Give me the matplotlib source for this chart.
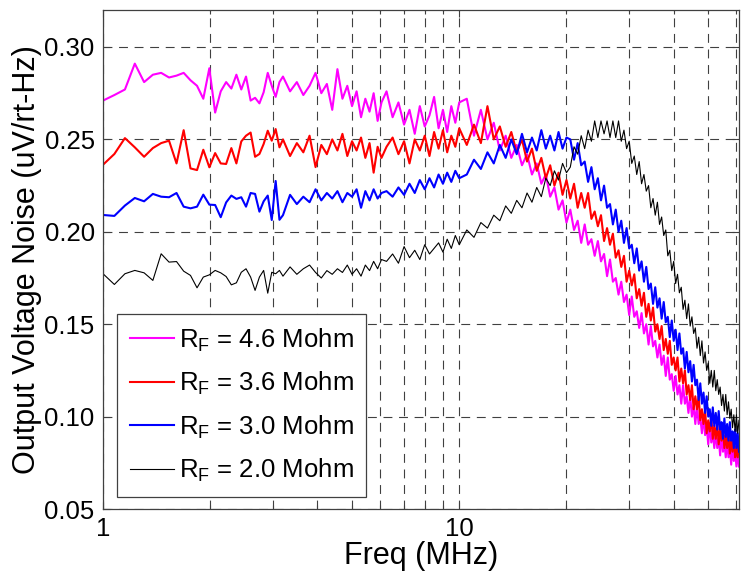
import numpy as np
import matplotlib
matplotlib.use("Agg")
import matplotlib.pyplot as plt
from matplotlib.ticker import FixedLocator, LogLocator, NullFormatter, FormatStrFormatter

# frequency sampling (MHz)
freq = np.concatenate([
    np.round(1.0 + 0.076 * np.arange(29), 3),   # 1.0 .. 3.128
    np.round(np.arange(3.2, 6.06, 0.15), 3),     # 3.2 .. 6.05
    np.round(np.arange(6.25, 10.01, 0.25), 3),   # 6.25 .. 10.0
    np.round(np.arange(10.5, 20.01, 0.5), 3),    # 10.5 .. 20.0
    np.round(np.arange(20.5, 61.01, 0.5), 3),    # 20.5 .. 61.0
])

rf46 = [
    .271, .274, .277, .291, .281, .285, .286, .2835, .2845, .286, .282, .279, .272, .2885, .2645,
    .276, .281, .2775, .285, .277, .284, .271, .2725, .2695, .2755, .286, .279, .273, .281,
    .284, .276, .281, .274, .279, .286, .275, .280, .266, .288, .272, .279, .268, .276, .262,
    .272, .265, .275, .260, .270,
    .276, .262, .270, .258, .266, .253, .268, .257, .263, .273, .256, .266, .254, .268, .259, .270,
    .272, .252, .266, .250, .259, .244, .252, .240, .247, .236, .242, .231, .237, .226, .231,
    .219, .224, .212, .217, .205,
    .212, .201, .206, .194, .204, .193, .196, .187, .195, .184, .188, .176, .185, .173, .175,
    .166, .173, .162, .166, .155, .165, .154, .157, .148, .156, .145, .150, .139, .149, .138,
    .141, .132, .139, .128, .133, .122, .132, .120, .123, .114, .122, .112, .117, .107, .117,
    .107, .111, .102, .111, .100, .106, .096, .106, .096, .100, .091, .100, .090, .095, .085,
    .096, .086, .091, .083, .092, .083, .089, .079, .091, .081, .086, .078, .087, .078, .084,
    .074, .086, .076, .081, .073, .082, .073,
]

rf36 = [
    .2363, .2421, .2507, .2457, .2406, .2453, .248, .2493, .237, .255, .2343, .2334, .2444, .2349,
    .2426, .237, .2367, .2453, .237, .2489, .252, .2537, .2406, .2421, .2475, .2547, .2493, .2556,
    .2457,
    .250, .241, .248, .243, .252, .235, .247, .242, .250, .244, .253, .241, .249, .244, .251,
    .240, .248, .232, .246, .240,
    .246, .251, .242, .249, .237, .250, .244, .252, .241, .254, .245, .255, .243, .252, .246, .256,
    .247, .258, .248, .268, .250, .257, .246, .254, .243, .250, .238, .245, .233, .240, .229,
    .236, .225, .232, .220, .228,
    .218, .226, .213, .221, .213, .221, .207, .211, .203, .209, .195, .202, .193, .199, .186,
    .190, .181, .187, .173, .179, .171, .177, .164, .169, .160, .167, .154, .161, .152, .159,
    .146, .150, .142, .149, .136, .142, .134, .141, .128, .132, .125, .132, .119, .126, .118,
    .125, .112, .117, .109, .117, .104, .111, .104, .111, .098, .104, .096, .104, .091, .098,
    .092, .100, .088, .095, .088, .097, .085, .093, .087, .095, .083, .090, .083, .091, .080,
    .088, .081, .090, .078, .084, .078, .086,
]

rf30 = [
    .2091, .2086, .2142, .2183, .2165, .2205, .219, .2187, .221, .2136, .2127, .2136, .2201, .2147,
    .2145, .2079, .2159, .2196, .2178, .2187, .2136, .221, .2205, .2109, .2165, .2196, .2064, .2275,
    .2065,
    .209, .220, .215, .219, .216, .223, .217, .221, .218, .222, .216, .221, .219, .223, .213,
    .222, .217, .223, .218, .221,
    .222, .219, .224, .220, .226, .221, .228, .223, .229, .224, .231, .226, .232, .227, .233, .229,
    .231, .239, .234, .243, .237, .247, .240, .250, .242, .253, .243, .251, .244, .255, .245,
    .252, .244, .254, .245, .251,
    .250, .239, .248, .236, .238, .227, .235, .223, .229, .217, .225, .213, .215, .204, .212,
    .200, .206, .194, .202, .191, .193, .183, .191, .179, .184, .173, .181, .169, .172, .161,
    .170, .159, .164, .153, .162, .151, .154, .143, .152, .141, .147, .136, .145, .134, .137,
    .126, .135, .124, .130, .119, .128, .117, .120, .109, .118, .107, .113, .102, .111, .100,
    .104, .095, .105, .095, .102, .093, .103, .093, .097, .088, .099, .089, .096, .087, .097,
    .087, .092, .083, .093, .083, .091, .081,
]

rf20 = [
    .1773, .1715, .1773, .1791, .1778, .1737, .1881, .1836, .1839, .1787, .1764, .1697, .1755,
    .1767, .1791, .1778, .1758, .1713, .1724, .1781, .18, .1755, .1683, .1755, .1791, .1668,
    .1781, .1773, .1791,
    .176, .181, .177, .180, .182, .178, .175, .179, .177, .180, .178, .182, .177, .180, .176,
    .182, .179, .184, .180, .185,
    .184, .188, .183, .192, .186, .190, .185, .193, .188, .191, .194, .189, .196, .191, .198, .193,
    .201, .197, .205, .202, .209, .206, .214, .210, .217, .213, .221, .216, .224, .219, .229,
    .225, .233, .228, .237, .232,
    .235, .246, .242, .252, .245, .255, .249, .260, .251, .260, .253, .260, .251, .260, .251,
    .260, .249, .255, .245, .249, .237, .241, .231, .238, .226, .231, .222, .225, .213, .218,
    .209, .216, .204, .208, .198, .201, .187, .190, .179, .184, .172, .177, .167, .170, .158,
    .163, .153, .161, .149, .154, .145, .148, .137, .143, .133, .141, .129, .135, .125, .129,
    .118, .125, .116, .125, .114, .120, .112, .116, .106, .112, .103, .112, .101, .108, .099,
    .104, .094, .101, .092, .101, .091, .098,
]

labels = ['R$_\\mathregular{F}$ = 4.6 Mohm', 'R$_\\mathregular{F}$ = 3.6 Mohm',
          'R$_\\mathregular{F}$ = 3.0 Mohm', 'R$_\\mathregular{F}$ = 2.0 Mohm']
colors = ['#ff00ff', '#ff0000', '#0000ff', '#000000']
widths = [1.5, 1.5, 1.5, 0.8]

plt.rcParams['font.family'] = ['Liberation Sans', 'DejaVu Sans']
plt.rcParams['mathtext.fontset'] = 'custom'
plt.rcParams['mathtext.rm'] = 'Liberation Sans'

fig = plt.figure(figsize=(7.51, 5.83), dpi=100)
ax = fig.add_axes([0.1372, 0.1269, 0.8468, 0.8559])

for y, lab, c, w in zip([rf46, rf36, rf30, rf20], labels, colors, widths):
    ax.plot(freq, y, color=c, lw=w, label=lab)

ax.set_xscale('log')
ax.set_xlim(1, 61)
ax.set_ylim(0.05, 0.32)
ax.xaxis.set_major_locator(FixedLocator([1, 10]))
ax.xaxis.set_major_formatter(FormatStrFormatter('%g'))
ax.xaxis.set_minor_locator(LogLocator(base=10, subs=np.arange(2, 10)))
ax.xaxis.set_minor_formatter(NullFormatter())
ax.set_yticks([0.05, 0.10, 0.15, 0.20, 0.25, 0.30])
ax.yaxis.set_major_formatter(FormatStrFormatter('%.2f'))

gc = '#404040'
ax.grid(True, which='major', color=gc, ls=(0, (8, 6)), lw=0.8)
ax.grid(True, which='minor', axis='x', color=gc, ls=(0, (8, 6)), lw=0.8)
ax.tick_params(which='both', direction='in', top=True, right=True, colors=gc, labelcolor='black',
               labelsize=18.5, width=0.8)
ax.tick_params(which='major', length=5, pad=6)
ax.tick_params(which='minor', length=3)
for s in ax.spines.values():
    s.set_color(gc)
    s.set_linewidth(0.9)

ax.set_xlabel('Freq (MHz)', fontsize=22, labelpad=0)
ax.set_ylabel('Output Voltage Noise (uV/rt-Hz)', fontsize=22, labelpad=2)

leg = ax.legend(loc='lower left', bbox_to_anchor=(0.022, 0.024), borderaxespad=0, fontsize=18.5,
                fancybox=False, edgecolor=gc, framealpha=1, handlelength=1.7, handletextpad=0.2,
                labelspacing=0.62, borderpad=0.5)
leg.get_frame().set_linewidth(0.9)

fig.savefig('out.png', dpi=100)
